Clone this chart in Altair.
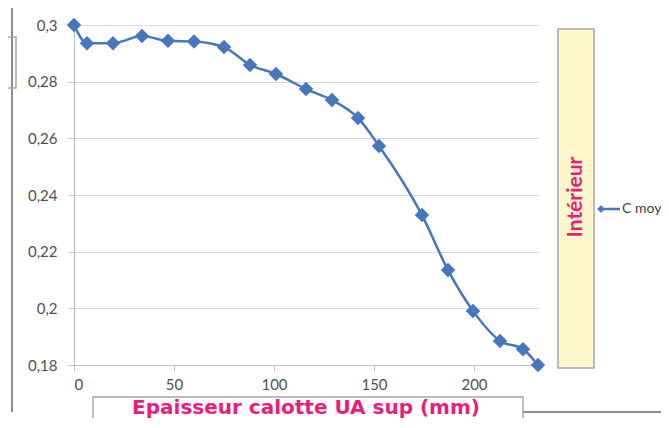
import altair as alt
import pandas as pd

# ---- data ----
thickness = [0, 6.5, 19.5, 34, 47, 60, 75, 88, 101, 116, 129, 142, 152.5, 174, 187, 199.5, 213, 224.5, 232]
c_moy = [0.300, 0.2936, 0.2936, 0.2961, 0.2944, 0.2942, 0.2922, 0.2859, 0.2827, 0.2774,
         0.2735, 0.2672, 0.2573, 0.2329, 0.2135, 0.1991, 0.1885, 0.1856, 0.1800]
y_ticks = [0.18, 0.2, 0.22, 0.24, 0.26, 0.28, 0.3]
x_ticks = [0, 50, 100, 150, 200]
x_title = "Epaisseur calotte UA sup (mm)"
side_title = "Intérieur"
series_name = "C moy"

df = pd.DataFrame({"x": thickness, "y": c_moy})

BLUE = "#4677BE"
PINK = "#E91E7A"
GREY = "#a6a6a6"
FONT = "Lato"
one = alt.Data(values=[{"k": 0}])

x_scale = alt.Scale(domain=[0, 232], nice=False, zero=False)
y_scale = alt.Scale(domain=[0.18, 0.3], nice=False, zero=False)

base = alt.Chart(df).encode(
    x=alt.X("x:Q", scale=x_scale,
            axis=alt.Axis(values=x_ticks, title=None, grid=False, tickSize=6,
                          labelPadding=6, format="d")),
    y=alt.Y("y:Q", scale=y_scale,
            axis=alt.Axis(values=y_ticks, title=None, grid=True, tickSize=6,
                          labelPadding=11,
                          labelExpr="replace(format(datum.value, '.2~f'), '.', ',')")),
)
line = base.mark_line(color=BLUE, strokeWidth=2.5, interpolate="monotone")
points = base.mark_point(shape="diamond", filled=True, size=210, color=BLUE, opacity=1)


def rect(x, x2, y, y2, fill, stroke, sw=1.5):
    return alt.Chart(one).mark_rect(fill=fill, stroke=stroke, strokeWidth=sw).encode(
        x=alt.value(x), x2=alt.value(x2), y=alt.value(y), y2=alt.value(y2))


def rule(x, x2, y, y2, color, sw):
    return alt.Chart(one).mark_rule(color=color, strokeWidth=sw).encode(
        x=alt.value(x), x2=alt.value(x2), y=alt.value(y), y2=alt.value(y2))


left_border = rule(-62, -62, -17, 387, "#8c8c8c", 2)
left_box = rect(-80, -58, 12, 63, "transparent", GREY)
bottom_border = rule(449, 620, 387, 387, "#8c8c8c", 2)
title_box = rect(19, 449, 372, 430, "white", GREY)
title_text = alt.Chart(one).mark_text(
    text=x_title, font="DejaVu Sans", fontSize=20, fontWeight="bold", color=PINK,
    align="center", baseline="middle").encode(x=alt.value(232), y=alt.value(383))
side_box = rect(484, 520, 4, 343, "#FFF6CC", GREY)
side_text = alt.Chart(one).mark_text(
    text=side_title, font=FONT, fontSize=21, fontWeight="bold", color=PINK,
    align="center", baseline="middle", angle=270).encode(x=alt.value(502), y=alt.value(172))
leg_line = rule(526, 546, 184, 184, BLUE, 2.5)
leg_pt = alt.Chart(one).mark_point(shape="diamond", filled=True, size=60, color=BLUE, opacity=1).encode(
    x=alt.value(527), y=alt.value(184))
leg_text = alt.Chart(one).mark_text(
    text=series_name, font=FONT, fontSize=14, color="#404040",
    align="left", baseline="middle").encode(x=alt.value(548), y=alt.value(184))

chart = alt.layer(
    left_border, left_box, bottom_border, side_box, side_text,
    leg_line, leg_pt, leg_text,
    line, points, title_box, title_text,
).properties(
    width=464, height=340,
    autosize=alt.AutoSizeParams(type="none"),
    padding={"left": 66, "top": 17, "right": 123, "bottom": 53},
    background="white",
).configure_view(stroke=None).configure_axis(
    domainColor="#bfbfbf", tickColor="#bfbfbf", gridColor="#d9d9d9",
    labelColor="#505050", labelFont=FONT, labelFontSize=15, labelFontWeight="normal",
    domainWidth=1.2, gridWidth=1.2,
)

chart.save("out.html", embed_options={"renderer": "svg", "actions": False})
